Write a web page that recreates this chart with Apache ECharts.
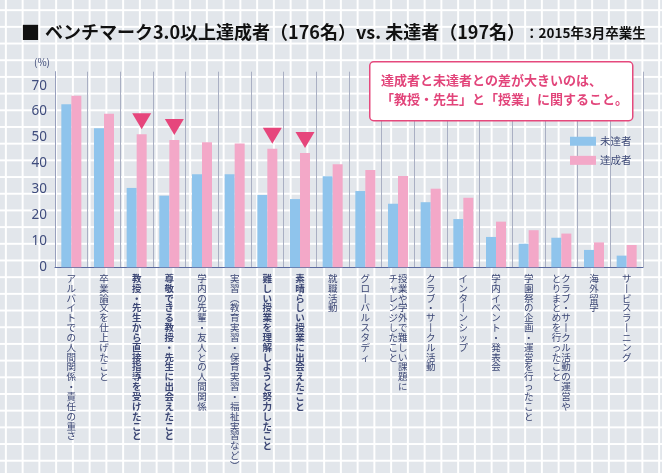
<!DOCTYPE html>
<html>
<head>
<meta charset="utf-8">
<script src="https://cdn.jsdelivr.net/npm/echarts@6/dist/echarts.min.js"></script>
<style>
  html, body { margin: 0; padding: 0; }
  #chart {
    width: 662px; height: 473px;
    background-color: #e2e6eb;
    background-image:
      linear-gradient(to bottom, #ffffff 1.5px, transparent 1.5px),
      linear-gradient(to right, #ffffff 1.5px, transparent 1.5px);
    background-size: 16.75px 16.7px;
    background-position: 4.9px 9.2px;
  }
</style>
</head>
<body>
<div id="chart"></div>
<script>
// ---- data ----
const categories = [
  'アルバイトでの人間関係・責任の重さ',
  '卒業論文を仕上げたこと',
  '教授・先生から直接指導を受けたこと',
  '尊敬できる教授・先生に出会えたこと',
  '学内の先輩・友人との人間関係',
  '実習（教育実習・保育実習・福祉実習など）',
  '難しい授業を理解しようと努力したこと',
  '素晴らしい授業に出会えたこと',
  '就職活動',
  'グローバルスタディ',
  '授業や学外で難しい課題に\nチャレンジしたこと',
  'クラブ・サークル活動',
  'インターンシップ',
  '学内イベント・発表会',
  '学園祭の企画・運営を行ったこと',
  'クラブ・サークル活動の運営や\nとりまとめを行ったこと',
  '海外留学',
  'サービスラーニング'
];
const notAchieved = [62.9, 53.6, 30.6, 27.6, 35.9, 35.9, 27.9, 26.3, 35.1, 29.4, 24.5, 25.1, 18.6, 11.7, 9.1, 11.4, 6.7, 4.5];
const achieved    = [66.1, 59.2, 51.3, 49.1, 48.2, 47.7, 45.7, 44.1, 39.7, 37.5, 35.2, 30.3, 26.8, 17.6, 14.3, 13.0, 9.6, 8.6];
const highlighted = [2, 3, 6, 7];
const seriesNames = ['未達者', '達成者'];
const yTicks = [0, 10, 20, 30, 40, 50, 60, 70];

// ---- helpers ----
const VMAP = { 'ー': '丨', '（': '︵', '）': '︶' };
function toVertical(label) {
  const cols = label.split('\n').map(s => Array.from(s).map(c => VMAP[c] || c));
  const n = Math.max.apply(null, cols.map(c => c.length));
  const order = cols.slice().reverse(); // first line is rightmost column
  const lines = [];
  for (let i = 0; i < n; i++) {
    lines.push(order.map(c => c[i] || '\u3000').join(''));
  }
  return lines.join('\n');
}

const JP = '"Noto Sans CJK JP", "Noto Sans", sans-serif';
const chart = echarts.init(document.getElementById('chart'), null, { renderer: 'canvas' });

chart.setOption({
  backgroundColor: 'transparent',
  animation: false,
  title: {
    left: 16, top: 18,
    text: '{sq|■} {m|ベンチマーク3.0以上達成者（176名）vs. 未達者（197名）}{s|：2015年3月卒業生}',
    textStyle: {
      rich: {
        sq: { fontSize: 19, color: '#111', fontFamily: JP },
        m: { fontSize: 18, fontWeight: 'bold', color: '#111', fontFamily: JP },
        s: { fontSize: 13.5, fontWeight: 'bold', color: '#111', fontFamily: JP }
      }
    }
  },
  legend: {
    orient: 'vertical',
    left: 570, top: 136,
    padding: 0,
    itemWidth: 26, itemHeight: 9, itemGap: 8.6,
    icon: 'rect',
    data: seriesNames,
    textStyle: { fontSize: 10.5, color: '#3e4a78', fontFamily: JP, padding: [0, 0, 0, -1] }
  },
  grid: { left: 55, right: 19, top: 71.7, bottom: 205.7, containLabel: false },
  xAxis: {
    type: 'category',
    data: categories.map((c, i) => ({
      value: c,
      textStyle: highlighted.indexOf(i) >= 0 ? { fontWeight: 'bold' } : { fontWeight: 'normal' }
    })),
    axisLine: { show: true, lineStyle: { color: '#5b6a9e', width: 1 } },
    axisTick: { show: false },
    splitLine: { show: true, lineStyle: { color: '#a9afc3', width: 1 } },
    axisLabel: {
      interval: 0,
      margin: 6,
      fontSize: 9.5,
      lineHeight: 9.85,
      color: '#3b4674',
      fontFamily: JP,
      verticalAlign: 'top',
      formatter: v => toVertical(v)
    }
  },
  yAxis: {
    type: 'value',
    min: 0, max: 75.4, interval: 10,
    name: '(%)',
    nameLocation: 'end',
    nameGap: 4,
    nameTextStyle: { fontSize: 10, color: '#3e4a78', align: 'right', padding: [0, 5, 0, 0], fontFamily: JP },
    axisLine: { show: true, lineStyle: { color: '#98a0bd', width: 1 } },
    axisTick: { show: false },
    splitLine: { show: false },
    axisLabel: {
      margin: 8,
      fontSize: 13.5,
      color: '#3f4c7d',
      fontFamily: '"Noto Sans", sans-serif',
      formatter: v => (yTicks.indexOf(v) >= 0 ? String(v) : '')
    }
  },
  series: [
    {
      name: seriesNames[0], type: 'bar', data: notAchieved,
      barWidth: 10, barGap: '0%',
      itemStyle: { color: '#8fc4ec' }
    },
    {
      name: seriesNames[1], type: 'bar', data: achieved,
      barWidth: 10, barGap: '0%',
      itemStyle: { color: '#f3a8c8' },
      markPoint: {
        symbol: 'triangle',
        symbolRotate: 180,
        symbolSize: [19, 16],
        symbolOffset: [0, -13],
        itemStyle: { color: '#e6467c' },
        label: { show: false },
        data: highlighted.map(i => ({ coord: [i, achieved[i]] }))
      }
    }
  ],
  graphic: [
    {
      type: 'rect', z: 100, left: 369, top: 61,
      shape: { width: 263, height: 59, r: 4 },
      style: { fill: '#ffffff', stroke: '#e5497d', lineWidth: 1.5 }
    },
    {
      type: 'text', z: 101, left: 381, top: 71,
      style: {
        text: '達成者と未達者との差が大きいのは、\n「教授・先生」と「授業」に関すること。',
        fill: '#e2447a',
        font: 'bold 13px "Noto Sans CJK JP"',
        lineHeight: 19
      }
    }
  ]
});
</script>
</body>
</html>
